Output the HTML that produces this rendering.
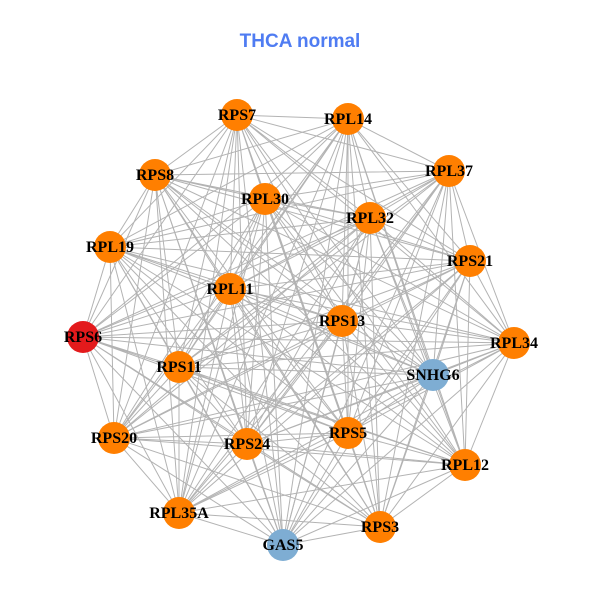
<!DOCTYPE html>
<html><head><meta charset="utf-8"><style>
html,body{margin:0;padding:0;background:#fff;}
svg{display:block;}
</style></head><body>
<svg width="600" height="600" viewBox="0 0 600 600" xmlns="http://www.w3.org/2000/svg">
<rect width="600" height="600" fill="#fff"/>
<text x="300" y="47" text-anchor="middle" font-family="Liberation Sans, Arial, sans-serif" font-weight="bold" font-size="19" fill="#4f7cf2">THCA normal</text>
<g fill="none" stroke="#b3b3b3" stroke-width="1" stroke-linejoin="round">
<path d="M237 115L348 119L237 115L449 171L237 115L155 175L237 115L265 199L237 115L370 218L237 115L110 247L237 115L470 261L237 115L230 289L237 115L342 321L237 115L83 337L237 115L514 343L237 115L433 375L237 115L179 367L237 115L114 438L237 115L247 444L237 115L348 433L237 115L465 465L237 115L179 513L237 115L380 527L237 115L283 545"/>
<path d="M348 119L449 171L348 119L155 175L348 119L265 199L348 119L370 218L348 119L110 247L348 119L470 261L348 119L230 289L348 119L342 321L348 119L83 337L348 119L514 343L348 119L433 375L348 119L179 367L348 119L114 438L348 119L247 444L348 119L348 433L348 119L465 465L348 119L179 513L348 119L380 527L348 119L283 545"/>
<path d="M449 171L155 175L449 171L265 199L449 171L370 218L449 171L110 247L449 171L470 261L449 171L230 289L449 171L342 321L449 171L83 337L449 171L514 343L449 171L433 375L449 171L179 367L449 171L114 438L449 171L247 444L449 171L348 433L449 171L465 465L449 171L179 513L449 171L380 527L449 171L283 545"/>
<path d="M155 175L265 199L155 175L370 218L155 175L110 247L155 175L470 261L155 175L230 289L155 175L342 321L155 175L83 337L155 175L514 343L155 175L433 375L155 175L179 367L155 175L114 438L155 175L247 444L155 175L348 433L155 175L465 465L155 175L179 513L155 175L380 527L155 175L283 545"/>
<path d="M265 199L370 218L265 199L110 247L265 199L470 261L265 199L230 289L265 199L342 321L265 199L83 337L265 199L514 343L265 199L433 375L265 199L179 367L265 199L114 438L265 199L247 444L265 199L348 433L265 199L465 465L265 199L179 513L265 199L380 527L265 199L283 545"/>
<path d="M370 218L110 247L370 218L470 261L370 218L230 289L370 218L342 321L370 218L83 337L370 218L514 343L370 218L433 375L370 218L179 367L370 218L114 438L370 218L247 444L370 218L348 433L370 218L465 465L370 218L179 513L370 218L380 527L370 218L283 545"/>
<path d="M110 247L470 261L110 247L230 289L110 247L342 321L110 247L83 337L110 247L514 343L110 247L433 375L110 247L179 367L110 247L114 438L110 247L247 444L110 247L348 433L110 247L465 465L110 247L179 513L110 247L380 527L110 247L283 545"/>
<path d="M470 261L230 289L470 261L342 321L470 261L83 337L470 261L514 343L470 261L433 375L470 261L179 367L470 261L114 438L470 261L247 444L470 261L348 433L470 261L465 465L470 261L179 513L470 261L380 527L470 261L283 545"/>
<path d="M230 289L342 321L230 289L83 337L230 289L514 343L230 289L433 375L230 289L179 367L230 289L114 438L230 289L247 444L230 289L348 433L230 289L465 465L230 289L179 513L230 289L380 527L230 289L283 545"/>
<path d="M342 321L83 337L342 321L514 343L342 321L433 375L342 321L179 367L342 321L114 438L342 321L247 444L342 321L348 433L342 321L465 465L342 321L179 513L342 321L380 527L342 321L283 545"/>
<path d="M83 337L514 343L83 337L433 375L83 337L179 367L83 337L114 438L83 337L247 444L83 337L348 433L83 337L465 465L83 337L179 513L83 337L380 527L83 337L283 545"/>
<path d="M514 343L433 375L514 343L179 367L514 343L114 438L514 343L247 444L514 343L348 433L514 343L465 465L514 343L179 513L514 343L380 527L514 343L283 545"/>
<path d="M433 375L179 367L433 375L114 438L433 375L247 444L433 375L348 433L433 375L465 465L433 375L179 513L433 375L380 527L433 375L283 545"/>
<path d="M179 367L114 438L179 367L247 444L179 367L348 433L179 367L465 465L179 367L179 513L179 367L380 527L179 367L283 545"/>
<path d="M114 438L247 444L114 438L348 433L114 438L465 465L114 438L179 513L114 438L380 527L114 438L283 545"/>
<path d="M247 444L348 433L247 444L465 465L247 444L179 513L247 444L380 527L247 444L283 545"/>
<path d="M348 433L465 465L348 433L179 513L348 433L380 527L348 433L283 545"/>
<path d="M465 465L179 513L465 465L380 527L465 465L283 545"/>
<path d="M179 513L380 527L179 513L283 545"/>
<path d="M380 527L283 545"/>
</g>
<g stroke="none">
<circle cx="237" cy="115" r="16" fill="#ff7f00"/>
<circle cx="348" cy="119" r="16" fill="#ff7f00"/>
<circle cx="449" cy="171" r="16" fill="#ff7f00"/>
<circle cx="155" cy="175" r="16" fill="#ff7f00"/>
<circle cx="265" cy="199" r="16" fill="#ff7f00"/>
<circle cx="370" cy="218" r="16" fill="#ff7f00"/>
<circle cx="110" cy="247" r="16" fill="#ff7f00"/>
<circle cx="470" cy="261" r="16" fill="#ff7f00"/>
<circle cx="230" cy="289" r="16" fill="#ff7f00"/>
<circle cx="342" cy="321" r="16" fill="#ff7f00"/>
<circle cx="83" cy="337" r="16" fill="#e31a1c"/>
<circle cx="514" cy="343" r="16" fill="#ff7f00"/>
<circle cx="433" cy="375" r="16" fill="#7eadd3"/>
<circle cx="179" cy="367" r="16" fill="#ff7f00"/>
<circle cx="114" cy="438" r="16" fill="#ff7f00"/>
<circle cx="247" cy="444" r="16" fill="#ff7f00"/>
<circle cx="348" cy="433" r="16" fill="#ff7f00"/>
<circle cx="465" cy="465" r="16" fill="#ff7f00"/>
<circle cx="179" cy="513" r="16" fill="#ff7f00"/>
<circle cx="380" cy="527" r="16" fill="#ff7f00"/>
<circle cx="283" cy="545" r="16" fill="#7eadd3"/>
</g>
<g font-family="Liberation Serif, Times New Roman, serif" font-weight="bold" font-size="16" fill="#000" text-anchor="middle">
<text x="237" y="120">RPS7</text>
<text x="348" y="124">RPL14</text>
<text x="449" y="176">RPL37</text>
<text x="155" y="180">RPS8</text>
<text x="265" y="204">RPL30</text>
<text x="370" y="223">RPL32</text>
<text x="110" y="252">RPL19</text>
<text x="470" y="266">RPS21</text>
<text x="230" y="294">RPL11</text>
<text x="342" y="326">RPS13</text>
<text x="83" y="342">RPS6</text>
<text x="514" y="348">RPL34</text>
<text x="433" y="380">SNHG6</text>
<text x="179" y="372">RPS11</text>
<text x="114" y="443">RPS20</text>
<text x="247" y="449">RPS24</text>
<text x="348" y="438">RPS5</text>
<text x="465" y="470">RPL12</text>
<text x="179" y="518">RPL35A</text>
<text x="380" y="532">RPS3</text>
<text x="283" y="550">GAS5</text>
</g>
</svg>
</body></html>
